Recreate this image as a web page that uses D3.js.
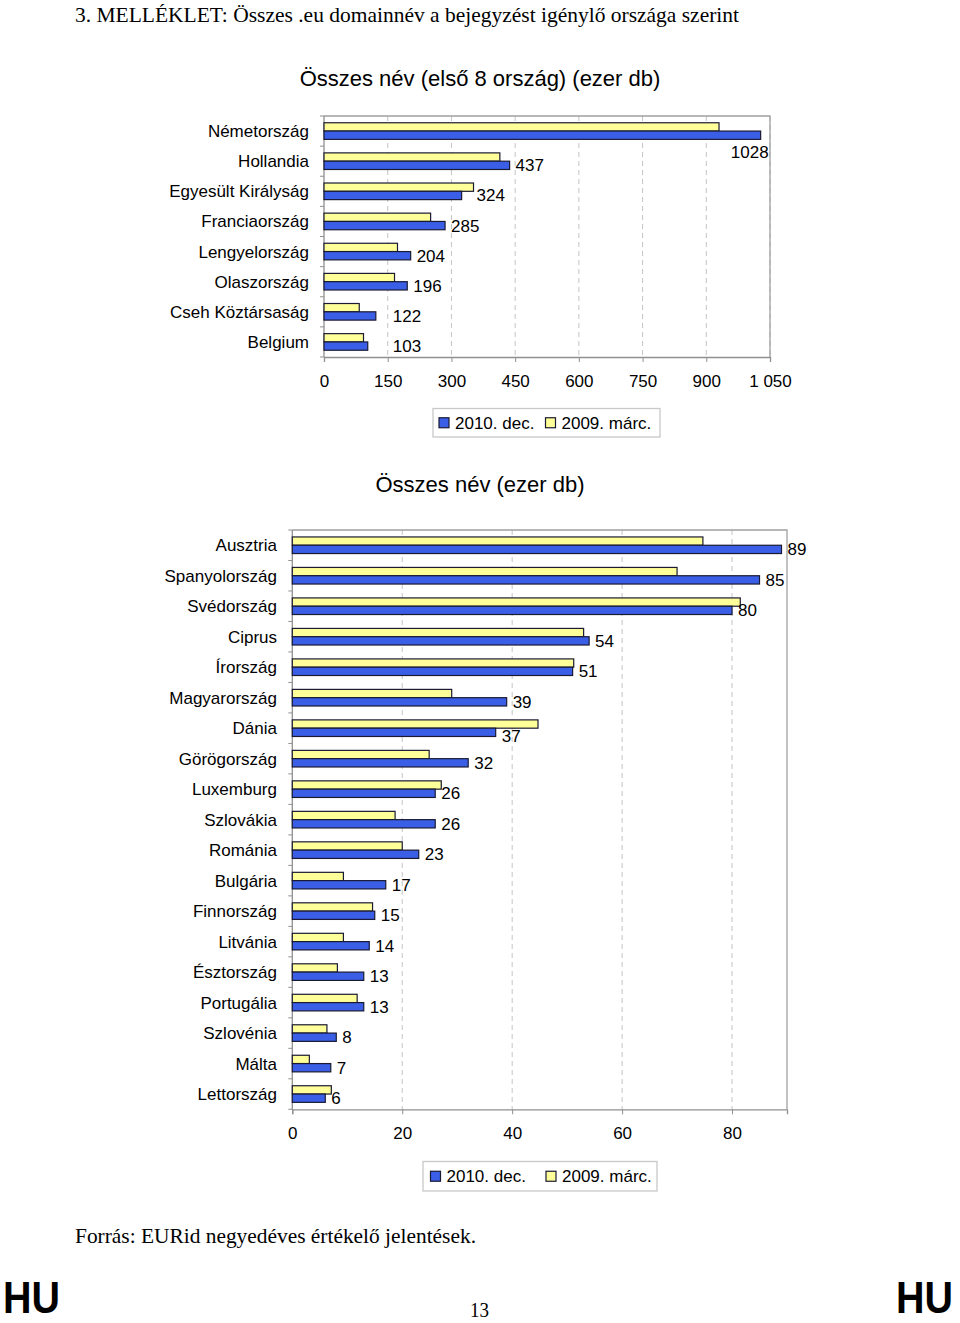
<!DOCTYPE html>
<html><head><meta charset="utf-8">
<script src="https://cdn.jsdelivr.net/npm/d3@7"></script>
<style>body{margin:0;background:#fff}svg{display:block}</style>
</head><body>
<svg id="c" width="960" height="1323"></svg>
<script>
// ---- data ----
const seriesNames = ["2010. dec.", "2009. márc."];
const topCats = ["Németország","Hollandia","Egyesült Királyság","Franciaország","Lengyelország","Olaszország","Cseh Köztársaság","Belgium"];
const topDec2010 = [1028,437,324,285,204,196,122,103];
const topMar2009 = [930,414,352,251,173,166,83,93];
const topTicks = [0,150,300,450,600,750,900,1050];

const botCats = ["Ausztria","Spanyolország","Svédország","Ciprus","Írország","Magyarország","Dánia","Görögország","Luxemburg","Szlovákia","Románia","Bulgária","Finnország","Litvánia","Észtország","Portugália","Szlovénia","Málta","Lettország"];
const botDec2010 = [89,85,80,54,51,39,37,32,26,26,23,17,15,14,13,13,8,7,6];
const botMar2009 = [74.7,70,81.5,53,51.2,29,44.7,24.9,27.1,18.7,20,9.3,14.6,9.3,8.2,11.8,6.3,3.1,7.1];
const botTicks = [0,20,40,60,80];

// ---- styles ----
const BLUE = "#3a5fe6", YELLOW = "#ffff99", STROKE = "#1a1a33";
const SANS = "'Liberation Sans', Arial, sans-serif";
const SERIF = "'Liberation Serif', 'Times New Roman', serif";
const fmt = d3.formatLocale({decimal: ",", thousands: "\u00a0", grouping: [3], currency: ["", ""]}).format(",");

const svg = d3.select("#c");

function chart(o) {
  const g = svg.append("g");
  const x = d3.scaleLinear().domain(o.domain).range([o.left, o.right]);
  const y = d3.scaleBand().domain(o.cats).range([o.top, o.bottom]);
  const bh = o.barH;

  // gridlines
  g.selectAll(".grid").data(o.ticks.filter(t => t > 0)).enter().append("line")
    .attr("x1", d => x(d)).attr("x2", d => x(d))
    .attr("y1", o.top).attr("y2", o.bottom)
    .attr("stroke", "#c4c4c4").attr("stroke-dasharray", "5,4").attr("stroke-width", 1);

  // plot frame top/right
  g.append("path").attr("d", `M${o.left},${o.top}H${o.right}V${o.bottom}`)
    .attr("fill", "none").attr("stroke", "#a0a0a0").attr("stroke-width", 1.3);

  // bottom axis
  const ax = g.append("g").attr("transform", `translate(0,${o.bottom})`)
    .call(d3.axisBottom(x).tickValues(o.ticks).tickSize(5).tickPadding(13).tickFormat(fmt));
  ax.select(".domain").attr("stroke", "#909090").attr("stroke-width", 1.3);
  ax.selectAll(".tick line").attr("stroke", "#909090");
  ax.selectAll("text").attr("font-family", SANS).attr("font-size", 17).attr("fill", "#000");

  // left axis line + boundary ticks
  g.append("line").attr("x1", o.left).attr("x2", o.left).attr("y1", o.top).attr("y2", o.bottom)
    .attr("stroke", "#909090").attr("stroke-width", 1.3);
  const bounds = o.cats.map(c => y(c)).concat([o.bottom]);
  g.selectAll(".lt").data(bounds).enter().append("line")
    .attr("x1", o.left - 4).attr("x2", o.left).attr("y1", d => d).attr("y2", d => d)
    .attr("stroke", "#909090");

  // category labels
  g.selectAll(".cl").data(o.cats).enter().append("text")
    .attr("x", o.labelX).attr("y", d => y(d) + y.bandwidth() / 2)
    .attr("dy", "0.35em").attr("text-anchor", "end")
    .attr("font-family", SANS).attr("font-size", 17).text(d => d);

  const rows = o.cats.map((c, i) => ({c, i, b: o.blue[i], yv: o.yellow[i]}));
  const mid = d => y(d.c) + y.bandwidth() / 2;
  // yellow bars (top)
  g.selectAll(".yb").data(rows).enter().append("rect")
    .attr("x", x(0)).attr("y", d => mid(d) - bh)
    .attr("width", d => x(d.yv) - x(0)).attr("height", bh)
    .attr("fill", YELLOW).attr("stroke", STROKE).attr("stroke-width", 1.2);
  // blue bars
  g.selectAll(".bb").data(rows).enter().append("rect")
    .attr("x", x(0)).attr("y", d => mid(d))
    .attr("width", d => x(d.b) - x(0)).attr("height", bh)
    .attr("fill", BLUE).attr("stroke", STROKE).attr("stroke-width", 1.2);
  // value labels
  g.selectAll(".vl").data(rows).enter().append("text")
    .each(function(d) {
      const n = (o.nudge && o.nudge[d.c]) || {};
      let lx = x(d.b) + 6;
      if (n.afterYellow) lx = x(d.yv) + 3;
      if (n.at !== undefined) lx = x(n.at);
      d3.select(this)
        .attr("x", n.anchorEnd ? x(d.b) + 8 : lx)
        .attr("y", mid(d) + bh / 2 + (n.dy || 0))
        .attr("text-anchor", n.anchorEnd ? "end" : "start");
    })
    .attr("dy", "0.35em")
    .attr("font-family", SANS).attr("font-size", 17).text(d => d.b);

  // title
  svg.append("text").attr("x", 480).attr("y", o.titleY).attr("text-anchor", "middle")
    .attr("font-family", SANS).attr("font-size", 22).text(o.title);

  // legend
  const L = o.legend;
  const lg = svg.append("g");
  lg.append("rect").attr("x", L.x).attr("y", L.y).attr("width", L.w).attr("height", L.h)
    .attr("fill", "#fff").attr("stroke", "#c8c8c8").attr("stroke-width", 1.3);
  const cols = [BLUE, YELLOW];
  seriesNames.forEach((s, i) => {
    const sx = L.items[i];
    lg.append("rect").attr("x", sx).attr("y", L.y + L.h / 2 - 5).attr("width", 10).attr("height", 10)
      .attr("fill", cols[i]).attr("stroke", STROKE).attr("stroke-width", 1.2);
    lg.append("text").attr("x", sx + 16).attr("y", L.y + L.h / 2).attr("dy", "0.35em")
      .attr("font-family", SANS).attr("font-size", 17).text(s);
  });
}

chart({
  cats: topCats, blue: topDec2010, yellow: topMar2009, ticks: topTicks,
  domain: [0, 1050], left: 324, right: 770, top: 116, bottom: 357, barH: 8.3,
  labelX: 309, title: "Összes név (első 8 ország) (ezer db)", titleY: 86,
  nudge: {"Németország": {anchorEnd: true, dy: 17}, "Egyesült Királyság": {afterYellow: true},
          "Cseh Köztársaság": {at: 162}, "Belgium": {at: 162}},
  legend: {x: 433, y: 408.5, w: 227, h: 28.5, items: [439, 545.5]}
});

chart({
  cats: botCats, blue: botDec2010, yellow: botMar2009, ticks: botTicks,
  domain: [0, 90], left: 292.3, right: 787, top: 530, bottom: 1109.3, barH: 8.3,
  labelX: 277, title: "Összes név (ezer db)", titleY: 492,
  nudge: {"Dánia": {dy: 4}},
  legend: {x: 423, y: 1161.5, w: 234, h: 29.5, items: [430.5, 546]}
});

// page text
svg.append("text").attr("x", 75).attr("y", 22).attr("font-family", SERIF).attr("font-size", 22)
  .attr("textLength", 664).attr("lengthAdjust", "spacingAndGlyphs")
  .text("3. MELLÉKLET: Összes .eu domainnév a bejegyzést igénylő országa szerint");
svg.append("text").attr("x", 75).attr("y", 1243).attr("font-family", SERIF).attr("font-size", 22)
  .attr("textLength", 401).attr("lengthAdjust", "spacingAndGlyphs")
  .text("Forrás: EURid negyedéves értékelő jelentések.");
svg.append("text").attr("x", 470).attr("y", 1317).attr("font-family", SERIF).attr("font-size", 20)
  .attr("textLength", 19).attr("lengthAdjust", "spacingAndGlyphs").text("13");
[[3], [896]].forEach(([hx]) => {
  svg.append("text").attr("x", hx).attr("y", 1313).attr("font-family", SANS).attr("font-weight", "bold")
    .attr("font-size", 44).attr("textLength", 57).attr("lengthAdjust", "spacingAndGlyphs").text("HU");
});
</script>
</body></html>
